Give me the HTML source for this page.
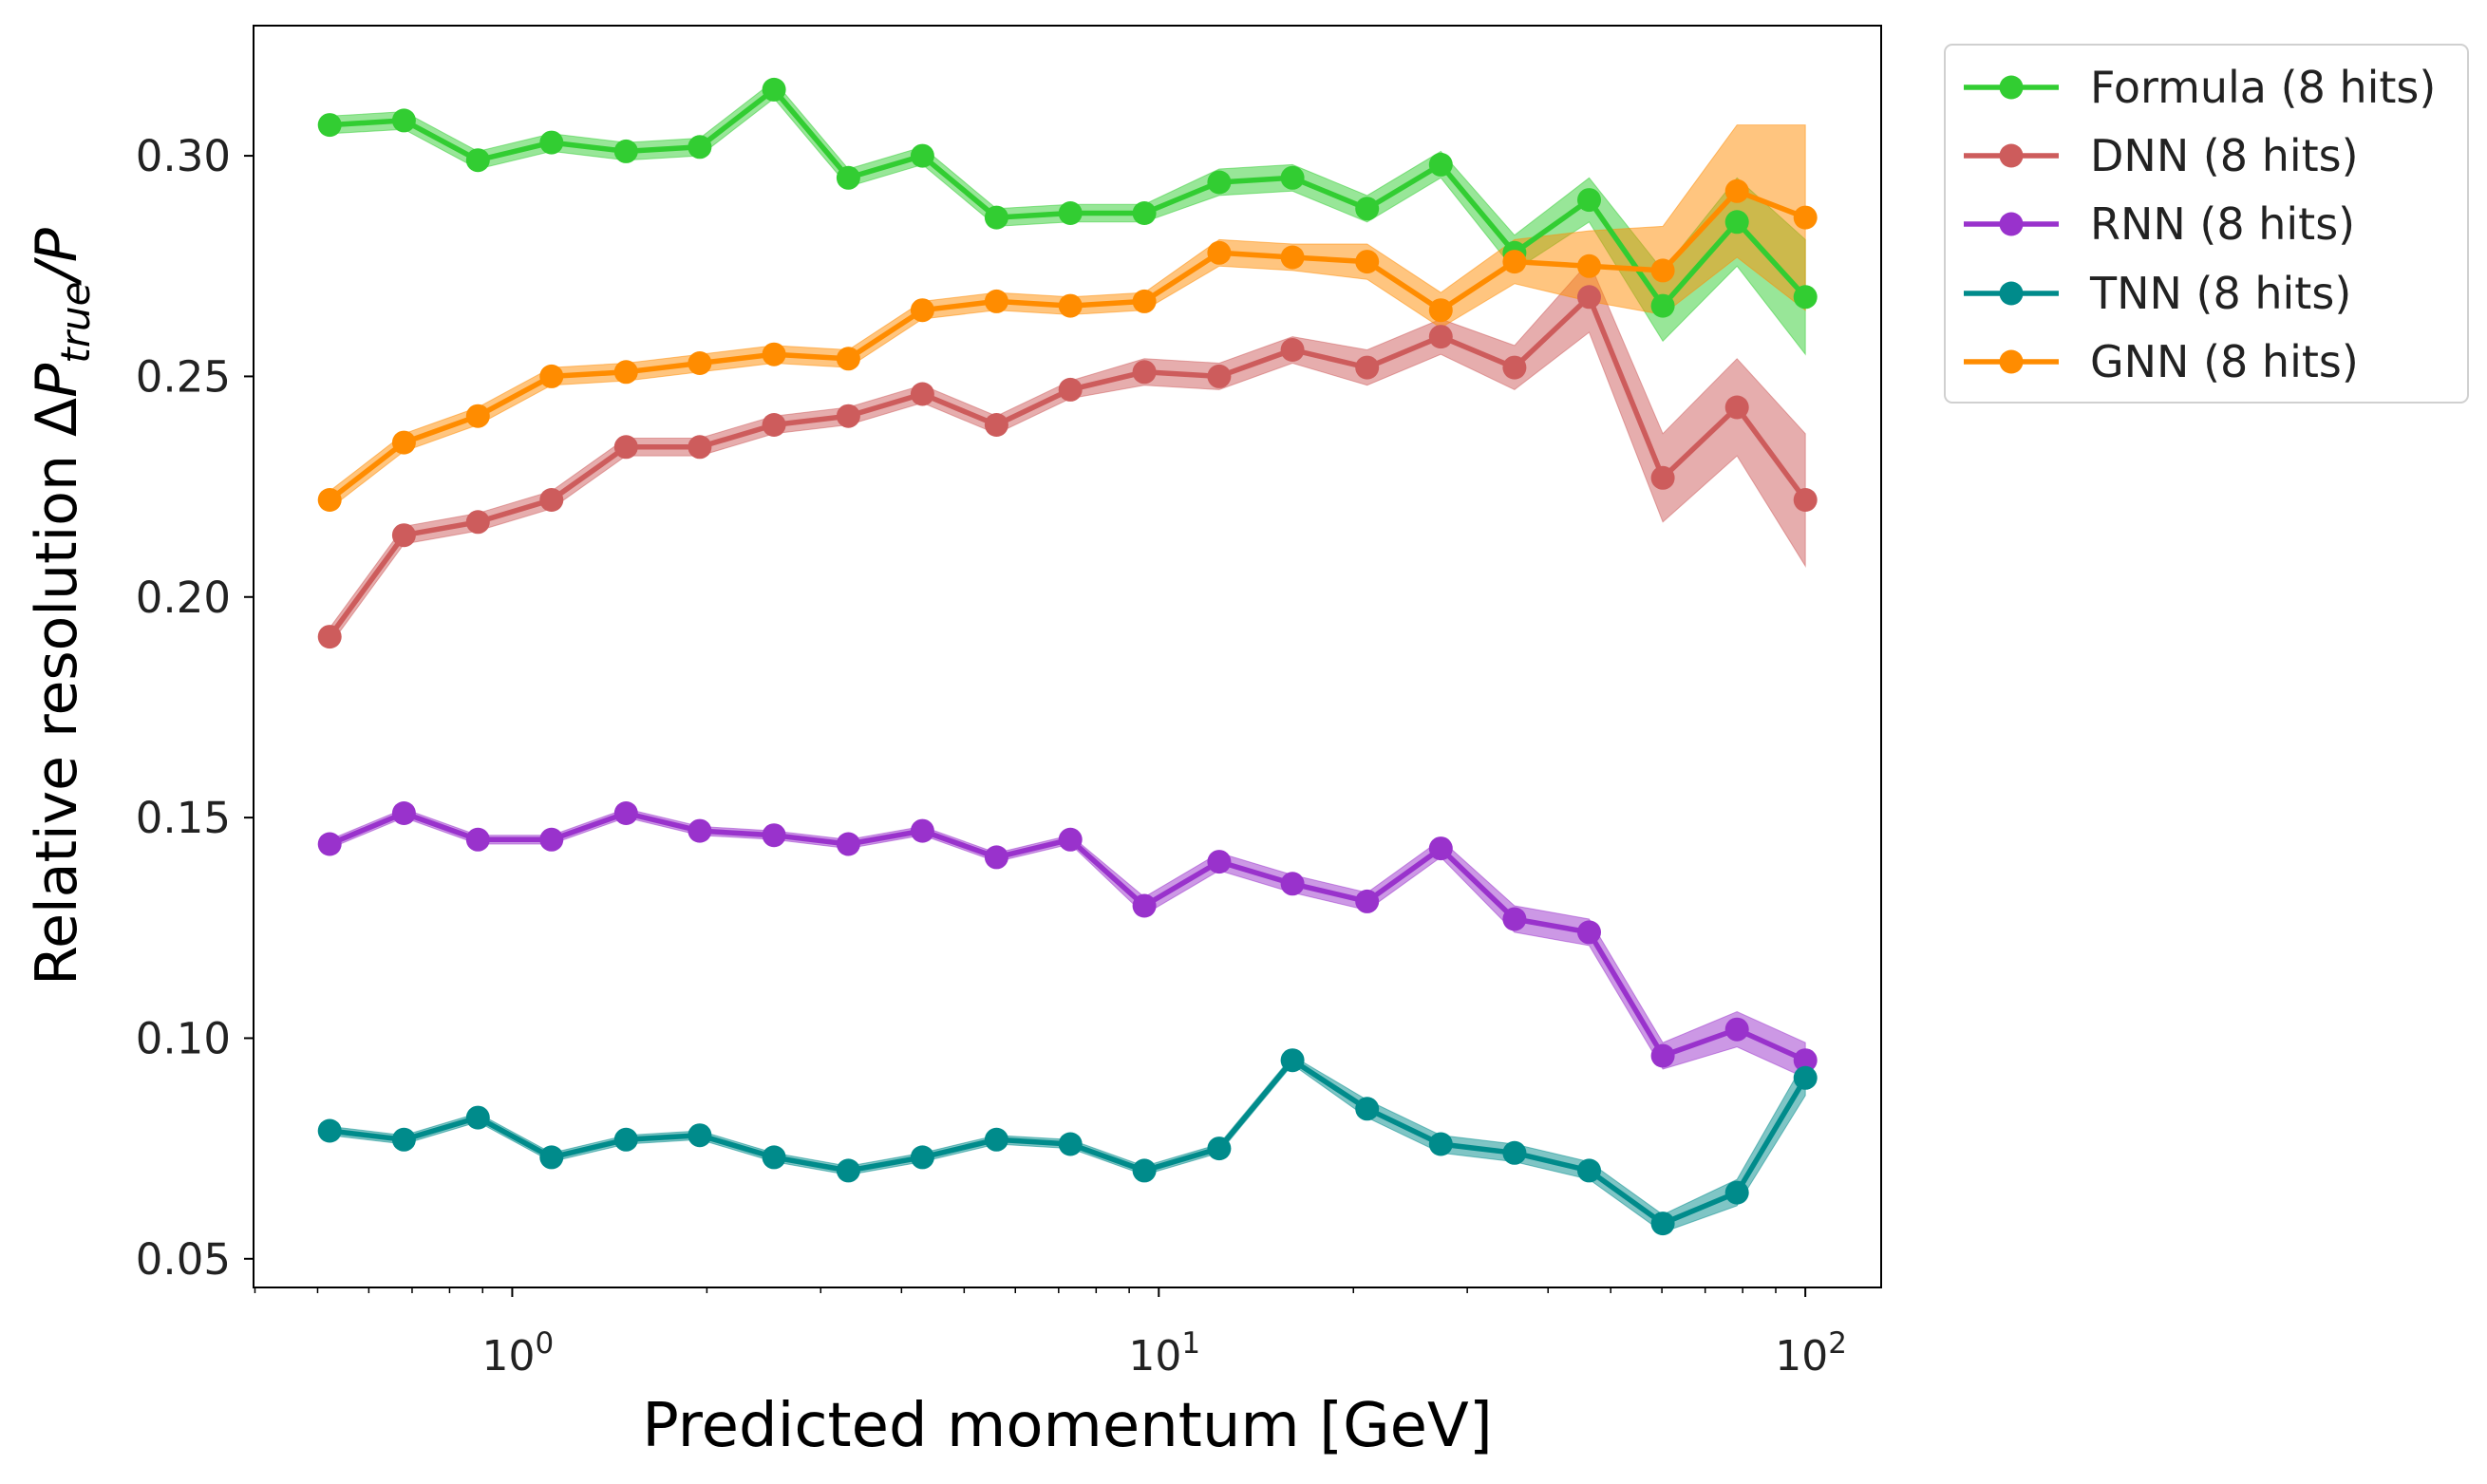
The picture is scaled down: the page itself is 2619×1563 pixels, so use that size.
<!DOCTYPE html>
<html><head><meta charset="utf-8"><style>
html,body{margin:0;padding:0;background:#fff;}
svg{display:block;font-family:"DejaVu Sans","Liberation Sans",sans-serif;}
</style></head><body>
<svg id="chart" width="2619" height="1563" viewBox="0 0 2619 1563" xmlns="http://www.w3.org/2000/svg">
<rect x="0" y="0" width="2619" height="1563" fill="#fff"/>
<g id="bands"></g>
<g id="lines"></g>
<rect x="267" y="27" width="1714" height="1329" fill="none" stroke="#000" stroke-width="2"/>
<g id="xticks"></g>
<g id="yticks"></g>
<text x="1124" y="1523" font-size="64" text-anchor="middle" fill="#000">Predicted momentum [GeV]</text>
<text transform="translate(80,639) rotate(-90)" font-size="60" text-anchor="middle" fill="#000">Relative resolution Δ<tspan font-style="italic">P</tspan><tspan font-style="italic" font-size="42" dy="14">true</tspan><tspan font-style="italic" dy="-14">/P</tspan></text>
<g id="legend">
<rect x="2048" y="47" width="551" height="377" rx="8" fill="#fff" fill-opacity="0.8" stroke="#d0d0d0" stroke-width="2"/>
</g>
</svg>
<script>
const xValues=[0.522,0.68,0.885,1.15,1.5,1.95,2.54,3.31,4.31,5.61,7.3,9.5,12.4,16.1,21.0,27.3,35.5,46.3,60.2,78.4,100];
const seriesNames=["Formula (8 hits)","DNN (8 hits)","RNN (8 hits)","TNN (8 hits)","GNN (8 hits)"];
const seriesColors=["#32cd32","#cd5c5c","#9932cc","#008b8b","#ff8c00"];
const formulaVals=[0.307,0.308,0.299,0.303,0.301,0.302,0.315,0.295,0.300,0.286,0.287,0.287,0.294,0.295,0.288,0.298,0.278,0.290,0.266,0.285,0.268];
const formulaErr=[0.002,0.002,0.002,0.002,0.002,0.002,0.002,0.002,0.002,0.002,0.002,0.002,0.003,0.003,0.003,0.003,0.004,0.005,0.008,0.010,0.013];
const dnnVals=[0.191,0.214,0.217,0.222,0.234,0.234,0.239,0.241,0.246,0.239,0.247,0.251,0.250,0.256,0.252,0.259,0.252,0.268,0.227,0.243,0.222];
const dnnErr=[0.002,0.002,0.002,0.002,0.002,0.002,0.002,0.002,0.002,0.002,0.002,0.003,0.003,0.003,0.004,0.004,0.005,0.008,0.010,0.011,0.015];
const rnnVals=[0.144,0.151,0.145,0.145,0.151,0.147,0.146,0.144,0.147,0.141,0.145,0.130,0.140,0.135,0.131,0.143,0.127,0.124,0.096,0.102,0.095];
const rnnErr=[0.001,0.001,0.001,0.001,0.001,0.001,0.001,0.001,0.001,0.001,0.001,0.002,0.002,0.002,0.002,0.002,0.003,0.003,0.003,0.004,0.004];
const tnnVals=[0.079,0.077,0.082,0.073,0.077,0.078,0.073,0.070,0.073,0.077,0.076,0.070,0.075,0.095,0.084,0.076,0.074,0.070,0.058,0.065,0.091];
const tnnErr=[0.001,0.001,0.001,0.001,0.001,0.001,0.001,0.001,0.001,0.001,0.001,0.001,0.001,0.001,0.002,0.002,0.002,0.002,0.002,0.003,0.004];
const gnnVals=[0.222,0.235,0.241,0.250,0.251,0.253,0.255,0.254,0.265,0.267,0.266,0.267,0.278,0.277,0.276,0.265,0.276,0.275,0.274,0.292,0.286];
const gnnErr=[0.002,0.002,0.002,0.002,0.002,0.002,0.002,0.002,0.002,0.002,0.002,0.002,0.003,0.003,0.004,0.004,0.005,0.008,0.010,0.015,0.021];
const yTickValues=[0.05,0.10,0.15,0.20,0.25,0.30];
const yTickLabels=["0.05","0.10","0.15","0.20","0.25","0.30"];
const xTickValues=[1,10,100];
const xTickExp=["0","1","2"];

const NS="http://www.w3.org/2000/svg";
const X0=267,X1=1981,Y0=27,Y1=1356;
const xmin=Math.log10(0.398),xmax=Math.log10(131);
const ymin=0.0435,ymax=0.3295;
function xs(v){return X0+(Math.log10(v)-xmin)/(xmax-xmin)*(X1-X0);}
function ys(v){return Y1-(v-ymin)/(ymax-ymin)*(Y1-Y0);}
function mk(tag,attrs,parent){const e=document.createElementNS(NS,tag);for(const k in attrs)e.setAttribute(k,attrs[k]);parent.appendChild(e);return e;}

const allVals=[formulaVals,dnnVals,rnnVals,tnnVals,gnnVals];
const allErr=[formulaErr,dnnErr,rnnErr,tnnErr,gnnErr];
const keys=["formula","dnn","rnn","tnn","gnn"];
const bands=document.getElementById('bands'),lines=document.getElementById('lines');
allVals.forEach((vals,s)=>{
  const err=allErr[s];
  let up=vals.map((v,i)=>xs(xValues[i]).toFixed(1)+','+ys(v+err[i]).toFixed(1));
  let dn=vals.map((v,i)=>xs(xValues[i]).toFixed(1)+','+ys(v-err[i]).toFixed(1)).reverse();
  const b=mk('polygon',{points:up.concat(dn).join(' '),fill:seriesColors[s],'fill-opacity':0.5,stroke:seriesColors[s],'stroke-opacity':0.5,'stroke-width':1},bands);
  
  
  const g=mk('g',{},lines);
  
  
  const l=mk('polyline',{points:vals.map((v,i)=>xs(xValues[i]).toFixed(1)+','+ys(v).toFixed(1)).join(' '),fill:'none',stroke:seriesColors[s],'stroke-width':5.5,'stroke-linejoin':'round'},g);
  
  
  vals.forEach((v,i)=>{
    const c=mk('circle',{cx:xs(xValues[i]).toFixed(1),cy:ys(v).toFixed(1),r:12.5,fill:seriesColors[s]},g);
    
    
  });
});

const yt=document.getElementById('yticks');
yTickValues.forEach((v,i)=>{
  const y=ys(v);
  const t=mk('line',{x1:X0-10,x2:X0,y1:y,y2:y,stroke:'#000','stroke-width':2},yt);
  
  
  const tx=mk('text',{x:X0-24,y:y+16,'font-size':45,'text-anchor':'end',fill:'#222'},yt);
  tx.textContent=yTickLabels[i];
  
  
});
const xt=document.getElementById('xticks');
for(let d=-1;d<=2;d++){for(let m=2;m<=9;m++){const v=m*Math.pow(10,d);const x=xs(v);if(x<X0||x>X1)continue;
  const t=mk('line',{x1:x,x2:x,y1:Y1,y2:Y1+6,stroke:'#000','stroke-width':1.5},xt);
  
  }}
xTickValues.forEach((v,i)=>{
  const x=xs(v);
  const t=mk('line',{x1:x,x2:x,y1:Y1,y2:Y1+10,stroke:'#000','stroke-width':2},xt);
  
  
  const tx=mk('text',{x:x+6,y:1443,'font-size':44,'text-anchor':'middle',fill:'#222'},xt);
  
  
  tx.appendChild(document.createTextNode('10'));
  const sp=mk('tspan',{dy:-18,'font-size':31},tx);
  sp.textContent=xTickExp[i];
});

const lg=document.getElementById('legend');
const legendY=[92,164,236,309,381];
seriesNames.forEach((n,s)=>{
  const g=mk('g',{},lg);
  
  
  mk('line',{x1:2068,x2:2168,y1:legendY[s],y2:legendY[s],stroke:seriesColors[s],'stroke-width':5.5},g);
  mk('circle',{cx:2118,cy:legendY[s],r:12.5,fill:seriesColors[s]},g);
  const t=mk('text',{x:2201,y:legendY[s]+16,'font-size':46,fill:'#222'},g);
  t.textContent=n;
});
</script>
</body></html>
